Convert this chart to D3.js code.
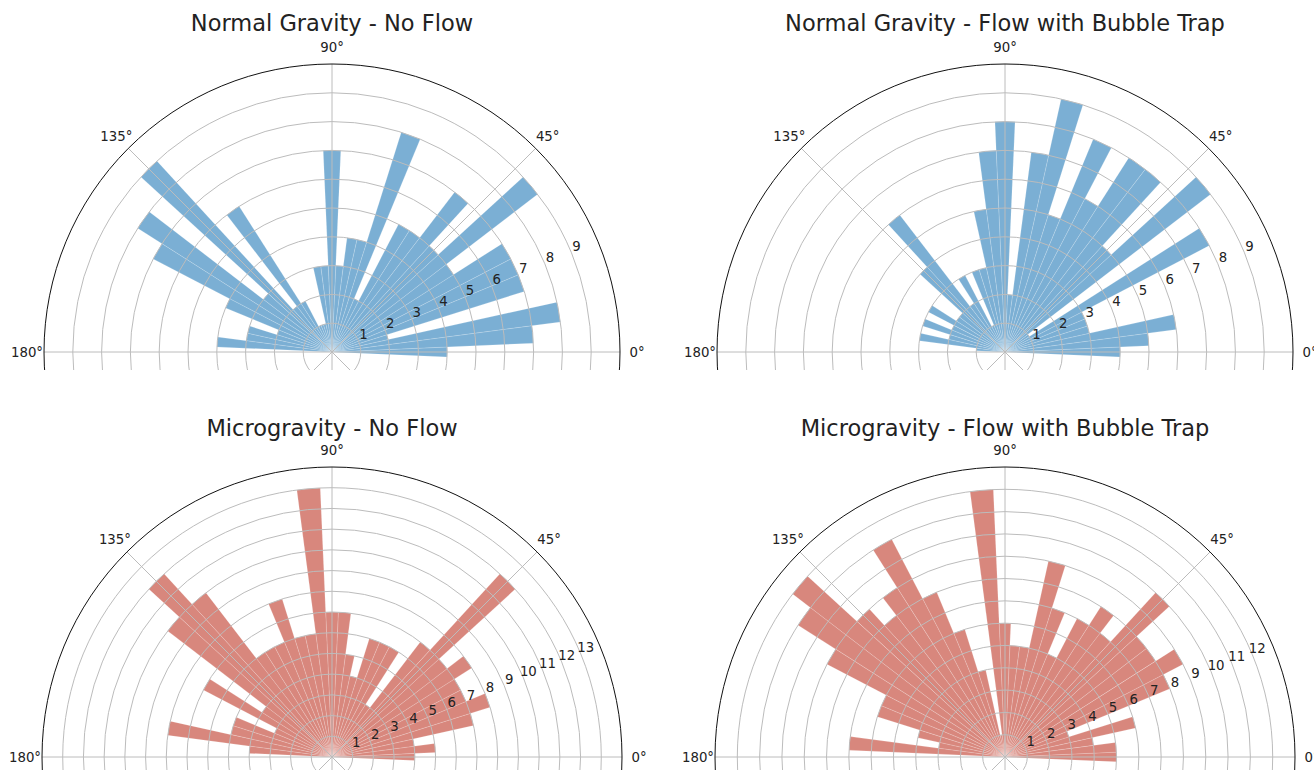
<!DOCTYPE html>
<html><head><meta charset="utf-8">
<script src="https://cdn.jsdelivr.net/npm/d3@7"></script>
<style>
body{margin:0;background:#fff}
svg{display:block}
text{font-family:'DejaVu Sans',sans-serif;fill:#222}
</style>
</head><body>
<svg id="chart" width="1314" height="770"></svg>
<script>
// ---- data ----
const binAngles = [0,5,10,15,20,25,30,35,40,45,50,55,60,65,70,75,80,85,90,95,100,105,110,115,120,125,130,135,140,145,150,155,160,165,170,175];
const binWidthDeg = 5;
const ngNoFlowCounts = [4,7,8,2,7,7,7,5,9,5,7,5,5,2,8,4,4,3,7,3,3,1,1,1,2,6,2,9,3,8,7,4,2,3,3,4];
const ngFlowCounts   = [4,5,6,3,3,3,8,1,9,5,8,8,6,8,5,9,7,2,8,7,5,3,3,1,3,2,6,4,2,2,3,2,3,2,3,1];
const mgNoFlowCounts = [4,5,4,7,8,7,7,8,7,12,7,3,6,6,6,4,5,7,7,13,6,6,8,6,6,6,10,12,10,4,7,3,5,5,8,4];
const mgFlowCounts   = [5,5,4,6,3,8,9,8,8,10,7,8,7,5,7,9,5,5,6,12,1,4,6,8,11,9,8,9,12,11,9,6,6,4,3,7];
const thetaTicks = [0,45,90,135,180,225,270,315];
const thetaLabelTicks = [0,45,90,135,180];
const ngRTicks = [1,2,3,4,5,6,7,8,9];
const mgNoFlowRTicks = [1,2,3,4,5,6,7,8,9,10,11,12,13];
const mgFlowRTicks = [1,2,3,4,5,6,7,8,9,10,11,12];

const panels = [
  {title:"Normal Gravity - No Flow", counts:ngNoFlowCounts, rTicks:ngRTicks, rMax:10, color:"#7bafd4", cx:332, cy:352, R:288, titleY:31, clipTop:0, clipBottom:370},
  {title:"Normal Gravity - Flow with Bubble Trap", counts:ngFlowCounts, rTicks:ngRTicks, rMax:10, color:"#7bafd4", cx:1005, cy:352, R:288, titleY:31, clipTop:0, clipBottom:370},
  {title:"Microgravity - No Flow", counts:mgNoFlowCounts, rTicks:mgNoFlowRTicks, rMax:14, color:"#d8877d", cx:332, cy:757, R:290, titleY:436, clipTop:395, clipBottom:770},
  {title:"Microgravity - Flow with Bubble Trap", counts:mgFlowCounts, rTicks:mgFlowRTicks, rMax:13, color:"#d8877d", cx:1005, cy:757, R:290, titleY:436, clipTop:395, clipBottom:770}
];

const svg = d3.select("#chart");
const rad = d => d * Math.PI / 180;

panels.forEach((p, i) => {
  const r = d3.scaleLinear().domain([0, p.rMax]).range([0, p.R]);
  const clipId = "clip" + i;
  svg.append("clipPath").attr("id", clipId)
    .append("rect").attr("x", 0).attr("y", p.clipTop).attr("width", 1314).attr("height", p.clipBottom - p.clipTop);

  const g = svg.append("g").attr("clip-path", `url(#${clipId})`);
  const pg = g.append("g").attr("transform", `translate(${p.cx},${p.cy})`);

  // bars
  const arc = d3.arc();
  pg.selectAll("path.bar").data(binAngles.map((a, k) => ({a, c: p.counts[k]})).filter(d => d.c > 0))
    .join("path").attr("class", "bar")
    .attr("d", d => arc({innerRadius: 0, outerRadius: r(d.c),
      startAngle: rad(90 - (d.a + binWidthDeg / 2)), endAngle: rad(90 - (d.a - binWidthDeg / 2))}))
    .attr("fill", p.color)
    .attr("stroke", "rgba(255,255,255,0.28)")
    .attr("stroke-width", 0.6);

  // circular grid
  pg.selectAll("circle.grid").data(p.rTicks).join("circle").attr("class", "grid")
    .attr("r", d => r(d)).attr("fill", "none").attr("stroke", "#bcbcbc").attr("stroke-width", 1);
  // radial grid
  pg.selectAll("line.grid").data(thetaTicks).join("line").attr("class", "grid")
    .attr("x1", 0).attr("y1", 0)
    .attr("x2", d => r(p.rMax) * Math.cos(rad(d)))
    .attr("y2", d => -r(p.rMax) * Math.sin(rad(d)))
    .attr("stroke", "#bcbcbc").attr("stroke-width", 1);
  // outer spine
  pg.append("circle").attr("r", r(p.rMax)).attr("fill", "none").attr("stroke", "#111").attr("stroke-width", 1);

  // radial tick labels at 22.5 deg
  pg.selectAll("text.rlab").data(p.rTicks).join("text").attr("class", "rlab")
    .attr("x", d => r(d) * Math.cos(rad(22.5)) + 5)
    .attr("y", d => -r(d) * Math.sin(rad(22.5)) - 2)
    .attr("text-anchor", "middle").attr("font-size", 13.3)
    .text(d => d);

  // angular labels
  pg.selectAll("text.tlab").data(thetaLabelTicks).join("text").attr("class", "tlab")
    .attr("x", d => (r(p.rMax) + 17) * Math.cos(rad(d)))
    .attr("y", d => -(r(p.rMax) + 17) * Math.sin(rad(d)))
    .attr("text-anchor", "middle").attr("dominant-baseline", "central")
    .attr("font-size", 13.3)
    .text(d => d + "°");

  // title
  svg.append("text").attr("x", p.cx).attr("y", p.titleY)
    .attr("text-anchor", "middle").attr("font-size", 22.5)
    .text(p.title);
});
</script>
</body></html>
